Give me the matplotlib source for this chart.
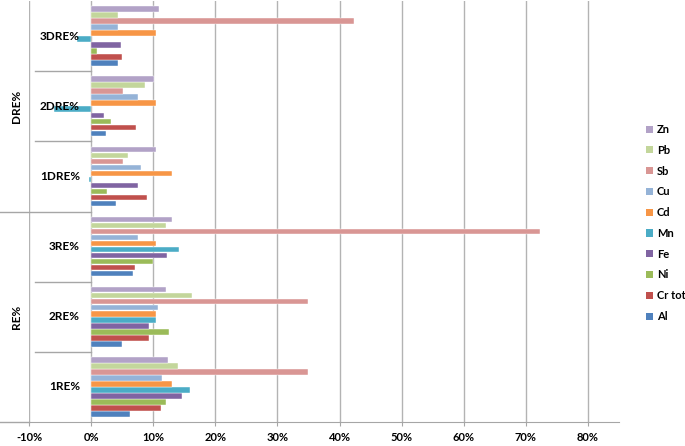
import matplotlib
matplotlib.use("Agg")
import matplotlib.pyplot as plt
from matplotlib.patches import Patch
from matplotlib.lines import Line2D
import numpy as np

plt.rcParams['font.family'] = ['Lato', 'DejaVu Sans']

groups = ["1RE%", "2RE%", "3RE%", "1DRE%", "2DRE%", "3DRE%"]
outer_labels = ["RE%", "DRE%"]
series = ["Al", "Cr tot", "Ni", "Fe", "Mn", "Cd", "Cu", "Sb", "Pb", "Zn"]
colors = ["#4F81BD", "#C0504D", "#9BBB59", "#8064A2", "#4BACC6",
          "#F79646", "#95B3D7", "#D99694", "#C3D69B", "#B2A2C7"]

# values per series, ordered as groups (1RE%, 2RE%, 3RE%, 1DRE%, 2DRE%, 3DRE%)
Al     = [6.2, 4.9, 6.7, 4.0, 2.4, 4.35]
Cr_tot = [11.2, 9.3, 7.1, 9.0, 7.2, 5.05]
Ni     = [12.0, 12.6, 10.0, 2.5, 3.2, 1.0]
Fe     = [14.7, 9.4, 12.3, 7.5, 2.0, 4.85]
Mn     = [16.0, 10.5, 14.1, -0.4, -6.0, -2.3]
Cd     = [13.0, 10.5, 10.5, 13.0, 10.5, 10.5]
Cu     = [11.4, 10.7, 7.6, 8.1, 7.5, 4.25]
Sb     = [35.0, 35.0, 72.3, 5.2, 5.2, 42.4]
Pb     = [14.0, 16.3, 12.0, 5.9, 8.65, 4.35]
Zn     = [12.4, 12.0, 13.0, 10.4, 10.05, 11.0]
values = [Al, Cr_tot, Ni, Fe, Mn, Cd, Cu, Sb, Pb, Zn]

xticks = [-10, 0, 10, 20, 30, 40, 50, 60, 70, 80]

W, H = 685, 446
fig = plt.figure(figsize=(W / 100, H / 100), dpi=100)
ax = fig.add_axes([29 / W, (H - 422) / H, (619 - 29) / W, (422 - 1) / H])

slot = 0.0858
y = np.arange(len(groups))
for j, (name, vals, c) in enumerate(zip(series, values, colors)):
    off = (j - 4.5) * slot
    ax.barh(y + off, vals, height=slot * 0.92, color=c, label=name, zorder=3,
            edgecolor='white', linewidth=0.3)

ax.set_xlim(-10, 85)
ax.set_ylim(-0.5, 5.5)
ax.set_xticks(xticks)
ax.set_xticklabels([f"{t}%" for t in xticks], fontsize=8, fontweight='bold')
ax.set_yticks([])
for s in ['top', 'right', 'left']:
    ax.spines[s].set_visible(False)
ax.spines['bottom'].set_color('#a6a6a6')
ax.tick_params(axis='x', length=3, color='#a6a6a6', pad=4, width=0.8)
ax.grid(axis='x', color='#b3b3b3', linewidth=1.0, zorder=0)
ax.set_axisbelow(True)

# pixel -> data x
def px(xp):
    return (xp - 29) / 6.21 - 10

lc = '#a6a6a6'
# inner dividers
for b in [0.5, 1.5, 3.5, 4.5]:
    ax.add_line(Line2D([px(35), 0], [b, b], color=lc, lw=1, clip_on=False))
# outer divider
ax.add_line(Line2D([px(0), 0], [2.5, 2.5], color=lc, lw=1, clip_on=False))
ax.add_line(Line2D([px(0), -10], [-0.5, -0.5], color=lc, lw=1, clip_on=False))

for i, g in enumerate(groups):
    ax.text(px(80), i, g, ha='right', va='center', fontsize=8.5,
            fontweight='bold', zorder=5)
ax.text(px(17), 1.0, outer_labels[0], rotation=90, ha='center', va='center',
        fontsize=8.5, fontweight='bold', clip_on=False)
ax.text(px(17), 4.0, outer_labels[1], rotation=90, ha='center', va='center',
        fontsize=8.5, fontweight='bold', clip_on=False)

handles = [Patch(facecolor=c, label=n) for n, c in zip(series, colors)][::-1]
leg = fig.legend(handles=handles, loc='upper left',
                 bbox_to_anchor=(646 / W, 1 - 124 / H), frameon=False,
                 borderpad=0, borderaxespad=0,
                 handlelength=0.6, handleheight=0.6, handletextpad=0.4,
                 labelspacing=0.88, prop={'size': 8, 'weight': 'bold'})

fig.savefig("out.png", dpi=100)
